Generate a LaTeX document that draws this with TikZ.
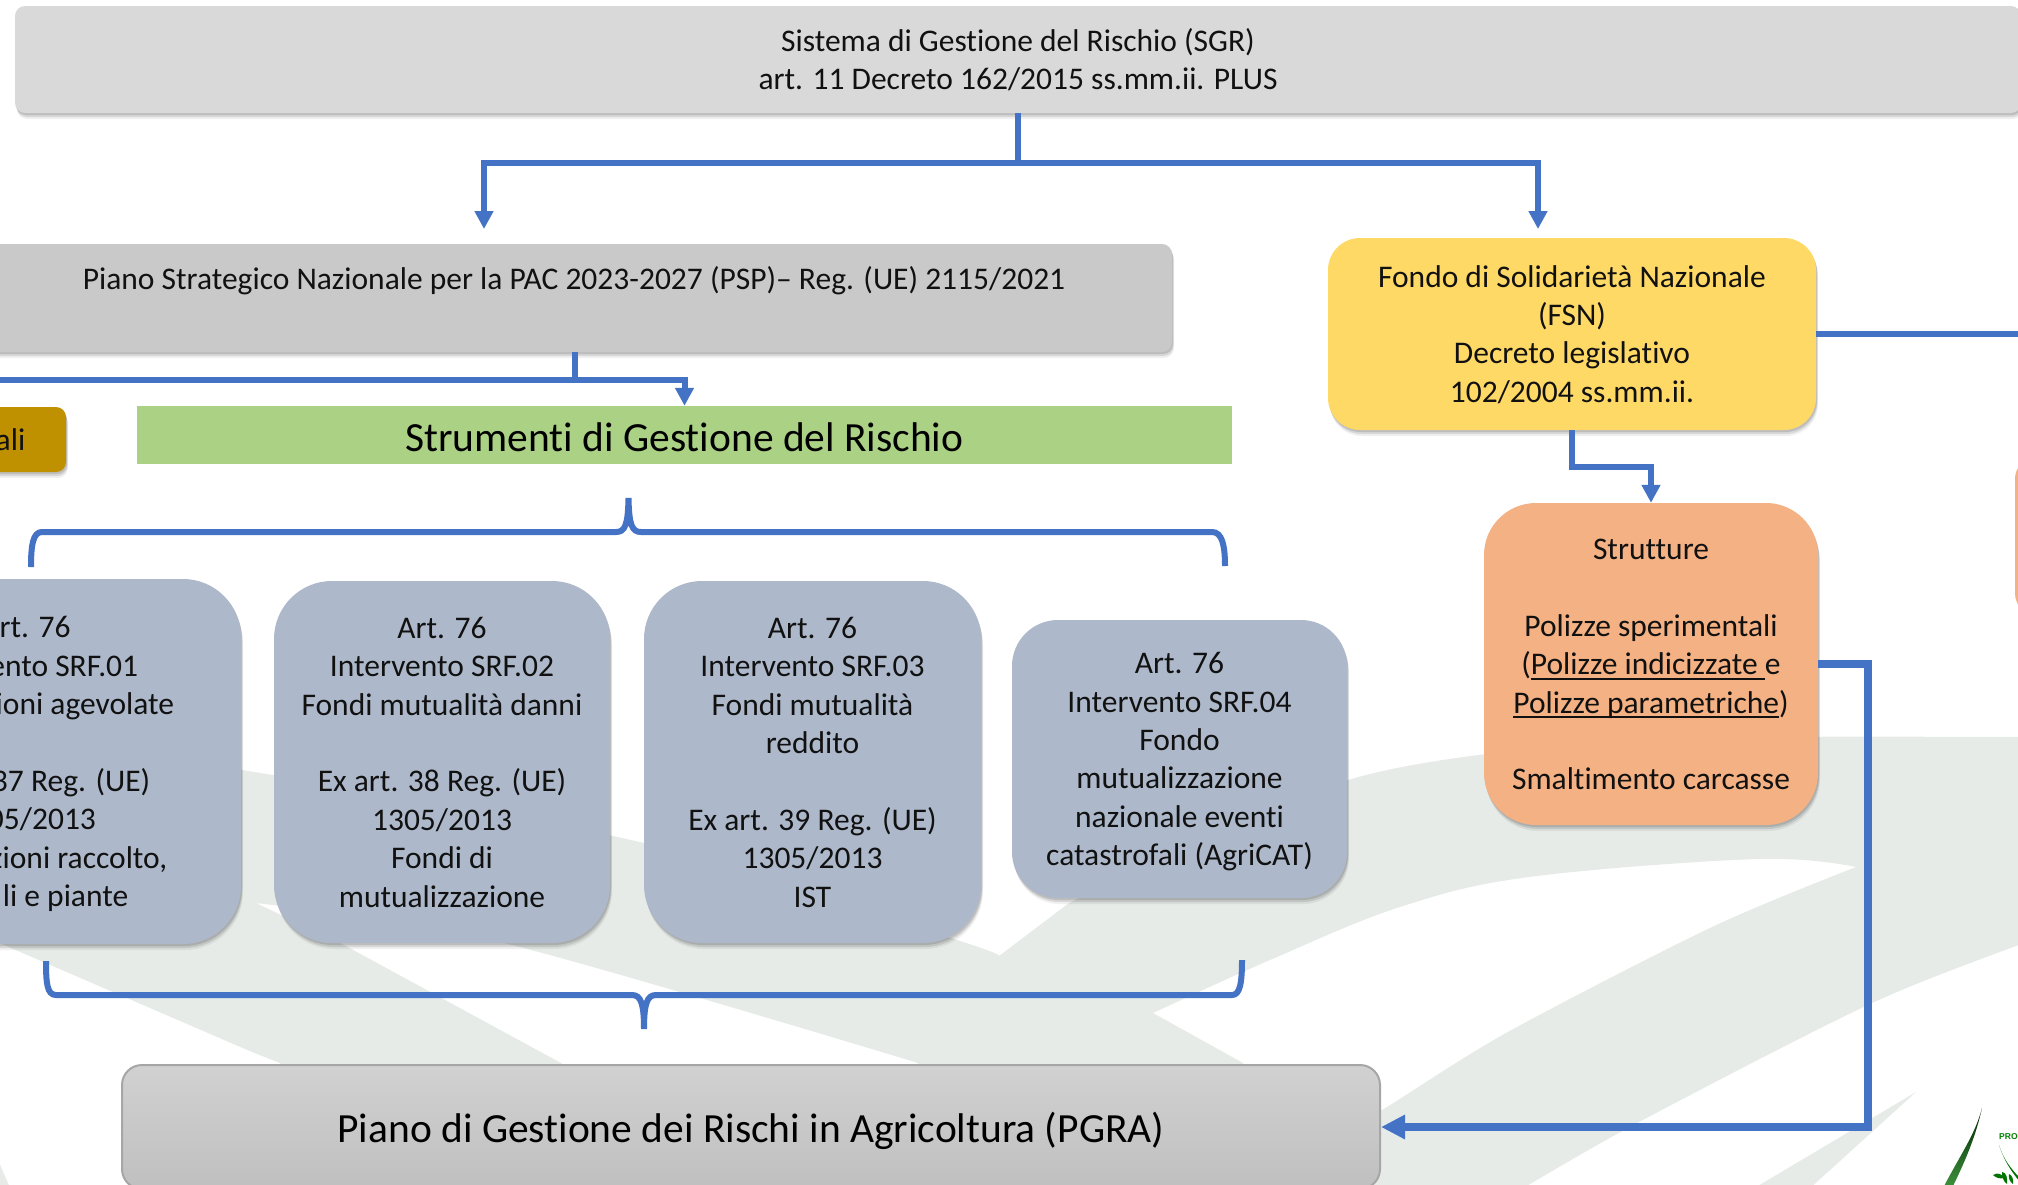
\documentclass[tikz,border=0pt]{standalone}
\usepackage{fontspec}
\setmainfont{Carlito}[Ligatures=NoCommon]
\newfontfamily\logofont{Liberation Sans}
\usetikzlibrary{arrows.meta,shadows}
\definecolor{linkblue}{HTML}{4472C4}
\definecolor{leafgray}{HTML}{E6EBE8}
\definecolor{slate}{HTML}{ADB9CA}
\definecolor{peach}{HTML}{F4B183}
\definecolor{sunny}{HTML}{FFD966}
\definecolor{ochre}{HTML}{BF9000}
\definecolor{meadow}{HTML}{ABD185}
\definecolor{inkblack}{HTML}{111111}
\newcommand\firstl{\rule{0pt}{29.5pt}}
\newcommand\lastl{\rule[-8pt]{0pt}{8pt}}
\newcommand\solo[1]{\rule[-8pt]{0pt}{#1}}
\newsavebox\ulbox
\newcommand\ulin[1]{\sbox\ulbox{#1}\rlap{\rule[-5pt]{\wd\ulbox}{2pt}}\usebox\ulbox}
\tikzset{
  softshadow/.style={
    general shadow={shadow xshift=1pt,shadow yshift=-2pt,fill=black,opacity=.12},
    general shadow={shadow xshift=1.5pt,shadow yshift=-4pt,fill=black,opacity=.10},
    general shadow={shadow xshift=2pt,shadow yshift=-6pt,fill=black,opacity=.06}},
  rbox/.style={inner sep=0pt,align=center,text=inkblack,font=\fontsize{31.5}{38.4}\selectfont,softshadow},
  link/.style={draw=linkblue,line width=6pt,line join=miter},
  linkhead/.style={link,-{Triangle[length=18pt,width=18pt]}},
  brace/.style={draw=linkblue,line width=6pt}
}
\begin{document}
\begin{tikzpicture}[x=1pt,y=-1pt]
\clip (0,0) rectangle (2018,1184);
\fill[white] (0,0) rectangle (2018,1184);
% watermark leaves
\fill[leafgray] (-40,745) -- plot[smooth,tension=.5] coordinates {(-40,745) (100,755) (242,770) (644,843) (957,940) (999,956)}
  -- (1069,903)
  -- plot[smooth,tension=.5] coordinates {(1069,903) (1348,780) (1600,742) (1775,737) (2030,737)}
  -- (2030,941) -- plot[smooth,tension=.5] coordinates {(2030,941) (1872,1003) (1639,1122) (1520,1190)}
  -- (1300,1190) -- (1310,1150)
  -- plot[smooth,tension=.5] coordinates {(1310,1150) (1382,1110) (1506,1033) (1712,927) (1856,867)}
  -- plot[smooth,tension=.6] coordinates {(1856,867) (1758,859) (1529,877) (1400,907) (1270,960) (1153,1013)}
  -- (1243,1063) -- (1260,1100) -- (918,1100) -- (918,1063)
  -- plot[smooth,tension=.5] coordinates {(918,1063) (504,943) (256,903)}
  -- (344,945) -- (561,1063) -- (600,1100) -- (280,1100) -- (280,1063) -- (252,1052) -- (11,948) -- (-40,925) -- cycle;
\fill[leafgray] (1916,1092) -- (1808,1190) -- (1751,1190) -- cycle;
\fill[leafgray] (-5,1153) -- (11,1190) -- (-5,1190) -- cycle;
% logo fragments
\shade[top color=black!85!green,bottom color=green!45!black!75!white,shading angle=0]
  (1982,1108) .. controls (1975,1135) and (1960,1155) .. (1942,1190) -- (1951,1190) .. controls (1966,1160) and (1976,1135) .. cycle;
\fill[green!45!black] (1999,1145) .. controls (2003,1158) and (2010,1170) .. (2020,1182) -- (2020,1178) .. controls (2010,1168) and (2003,1158) .. cycle;
\fill[green!45!black] (1993,1175) .. controls (1998,1172) and (2002,1174) .. (2004,1178) .. controls (2000,1179) and (1996,1178) .. cycle;
\fill[green!45!black] (2002,1172) .. controls (2006,1172) and (2008,1178) .. (2007,1184) .. controls (2003,1181) and (2002,1177) .. cycle;
\fill[green!45!black] (2009,1174) .. controls (2012,1175) and (2014,1180) .. (2013,1184) .. controls (2010,1182) and (2008,1178) .. cycle;
\node[anchor=west,inner sep=0pt,text=green!50!black,font=\logofont\bfseries\fontsize{8.5}{10}\selectfont] (proc) at (1999,1137) {PROC};

% boxes
\node[rbox,fill=black!15,rounded corners=10pt,minimum width=2006pt,minimum height=107pt] (sgr) at (1018,59.5)
  {\firstl Sistema di Gestione del Rischio (SGR)\\art. 11 Decreto 162/2015 ss.mm.ii. PLUS\lastl};
\node[rbox,fill=black!21,rounded corners=10pt,minimum width=1196pt,minimum height=108pt] (psp) at (574,298)
  {\firstl Piano Strategico Nazionale per la PAC 2023-2027 (PSP)-- Reg. (UE) 2115/2021\\\mbox{}\lastl};
\node[rbox,fill=sunny,rounded corners=32pt,minimum width=488pt,minimum height=192pt] (fsn) at (1572,334)
  {\firstl Fondo di Solidarietà Nazionale\\(FSN)\\Decreto legislativo\\102/2004 ss.mm.ii.\lastl};
\node[rbox,fill=peach,rounded corners=52pt,minimum width=334pt,minimum height=322pt] (str) at (1651,664)
  {\firstl Strutture\\\mbox{}\\Polizze sperimentali\\(\ulin{Polizze indicizzate\ }e\\\ulin{Polizze parametriche})\\\mbox{}\\Smaltimento carcasse\lastl};
\node[rbox,fill=peach,rounded corners=20pt,minimum width=200pt,minimum height=155pt] (side) at (2115,536) {};
\node[rbox,fill=ochre,rounded corners=10pt,minimum width=166pt,minimum height=65pt] (gold) at (-17,439.5)
  {\firstl\hspace*{55pt}ali\lastl};
\node[inner sep=0pt,fill=meadow,text=black,font=\fontsize{41.5}{50}\selectfont,minimum width=1095pt,minimum height=58pt] (sgrt) at (684.5,435)
  {\solo{48pt}Strumenti di Gestione del Rischio};
\node[rbox,fill=slate,rounded corners=58pt,minimum width=430pt,minimum height=365pt] (b1) at (26,761.5)
  {\firstl\phantom{A}rt. 76\\\phantom{Interv}ento SRF.01\\\phantom{Assicuraz}ioni agevolate\\\mbox{}\\\phantom{Ex art. }37 Reg. (UE)\\\phantom{13}05/2013\\\phantom{Assicura}zioni raccolto,\\\phantom{anima}li e piante\lastl};
\node[rbox,fill=slate,rounded corners=58pt,minimum width=336pt,minimum height=362pt] (b2) at (442,762)
  {\firstl Art. 76\\Intervento SRF.02\\Fondi mutualità danni\\\mbox{}\\Ex art. 38 Reg. (UE)\\1305/2013\\Fondi di\\mutualizzazione\lastl};
\node[rbox,fill=slate,rounded corners=58pt,minimum width=337pt,minimum height=362pt] (b3) at (812.5,762)
  {\firstl Art. 76\\Intervento SRF.03\\Fondi mutualità\\reddito\\\mbox{}\\Ex art. 39 Reg. (UE)\\1305/2013\\IST\lastl};
\node[rbox,fill=slate,rounded corners=46pt,minimum width=335pt,minimum height=278pt] (b4) at (1179.5,759)
  {\firstl Art. 76\\Intervento SRF.04\\Fondo\\mutualizzazione\\nazionale eventi\\catastrofali (AgriCAT)\lastl};
\node[inner sep=0pt,draw=black!35,line width=2pt,top color=black!18,bottom color=black!25,rounded corners=20pt,text=black,font=\fontsize{41.5}{50}\selectfont,minimum width=1258pt,minimum height=124pt] (pgra) at (751,1127)
  {\solo{46pt}Piano di Gestione dei Rischi in Agricoltura (PGRA)};

% free ends
\coordinate (tipl) at (484,229);
\coordinate (tipr) at (1538,229);
\coordinate (offl) at (-10,380);
\coordinate (offr) at (2030,334);
\coordinate (bula) at (31,567);
\coordinate (bum) at (628.5,498);
\coordinate (bur) at (1225,566);
\coordinate (bll) at (46,961);
\coordinate (blm) at (644,1029);
\coordinate (blr) at (1242,960);

% connectors
\draw[linkhead] (sgr.south) -- ++(0,50) -| (tipl);
\draw[linkhead] (sgr.south) -- ++(0,50) -| (tipr);
\draw[link] (575,352) -- (575,380) -- (offl);
\draw[linkhead] (575,352) -- (575,380) -| (sgrt.north);
\draw[link] (fsn.east) -- (offr);
\draw[linkhead] (fsn.south) -- ++(0,37) -| (str.north);
\draw[draw=linkblue,line width=7.5pt,line join=miter,-{Triangle[length=24pt,width=23pt]}] (str.east) -- (1868,664) -- (1868,1127) -- (pgra.east);

% braces
\draw[brace] (bula) .. controls (31,545) and (33,532) .. (42,532) -- (616,532) .. controls (625,532) and (628,525) .. (bum)
  .. controls (629,525) and (632,532) .. (641,532) -- (1212,532) .. controls (1222,532) and (1225,545) .. (bur);
\draw[brace] (bll) .. controls (46,983) and (47,995) .. (56,995) -- (632,995) .. controls (641,995) and (644,1004) .. (blm)
  .. controls (644,1004) and (647,995) .. (656,995) -- (1232,995) .. controls (1240,995) and (1242,983) .. (blr);
\end{tikzpicture}
\end{document}
